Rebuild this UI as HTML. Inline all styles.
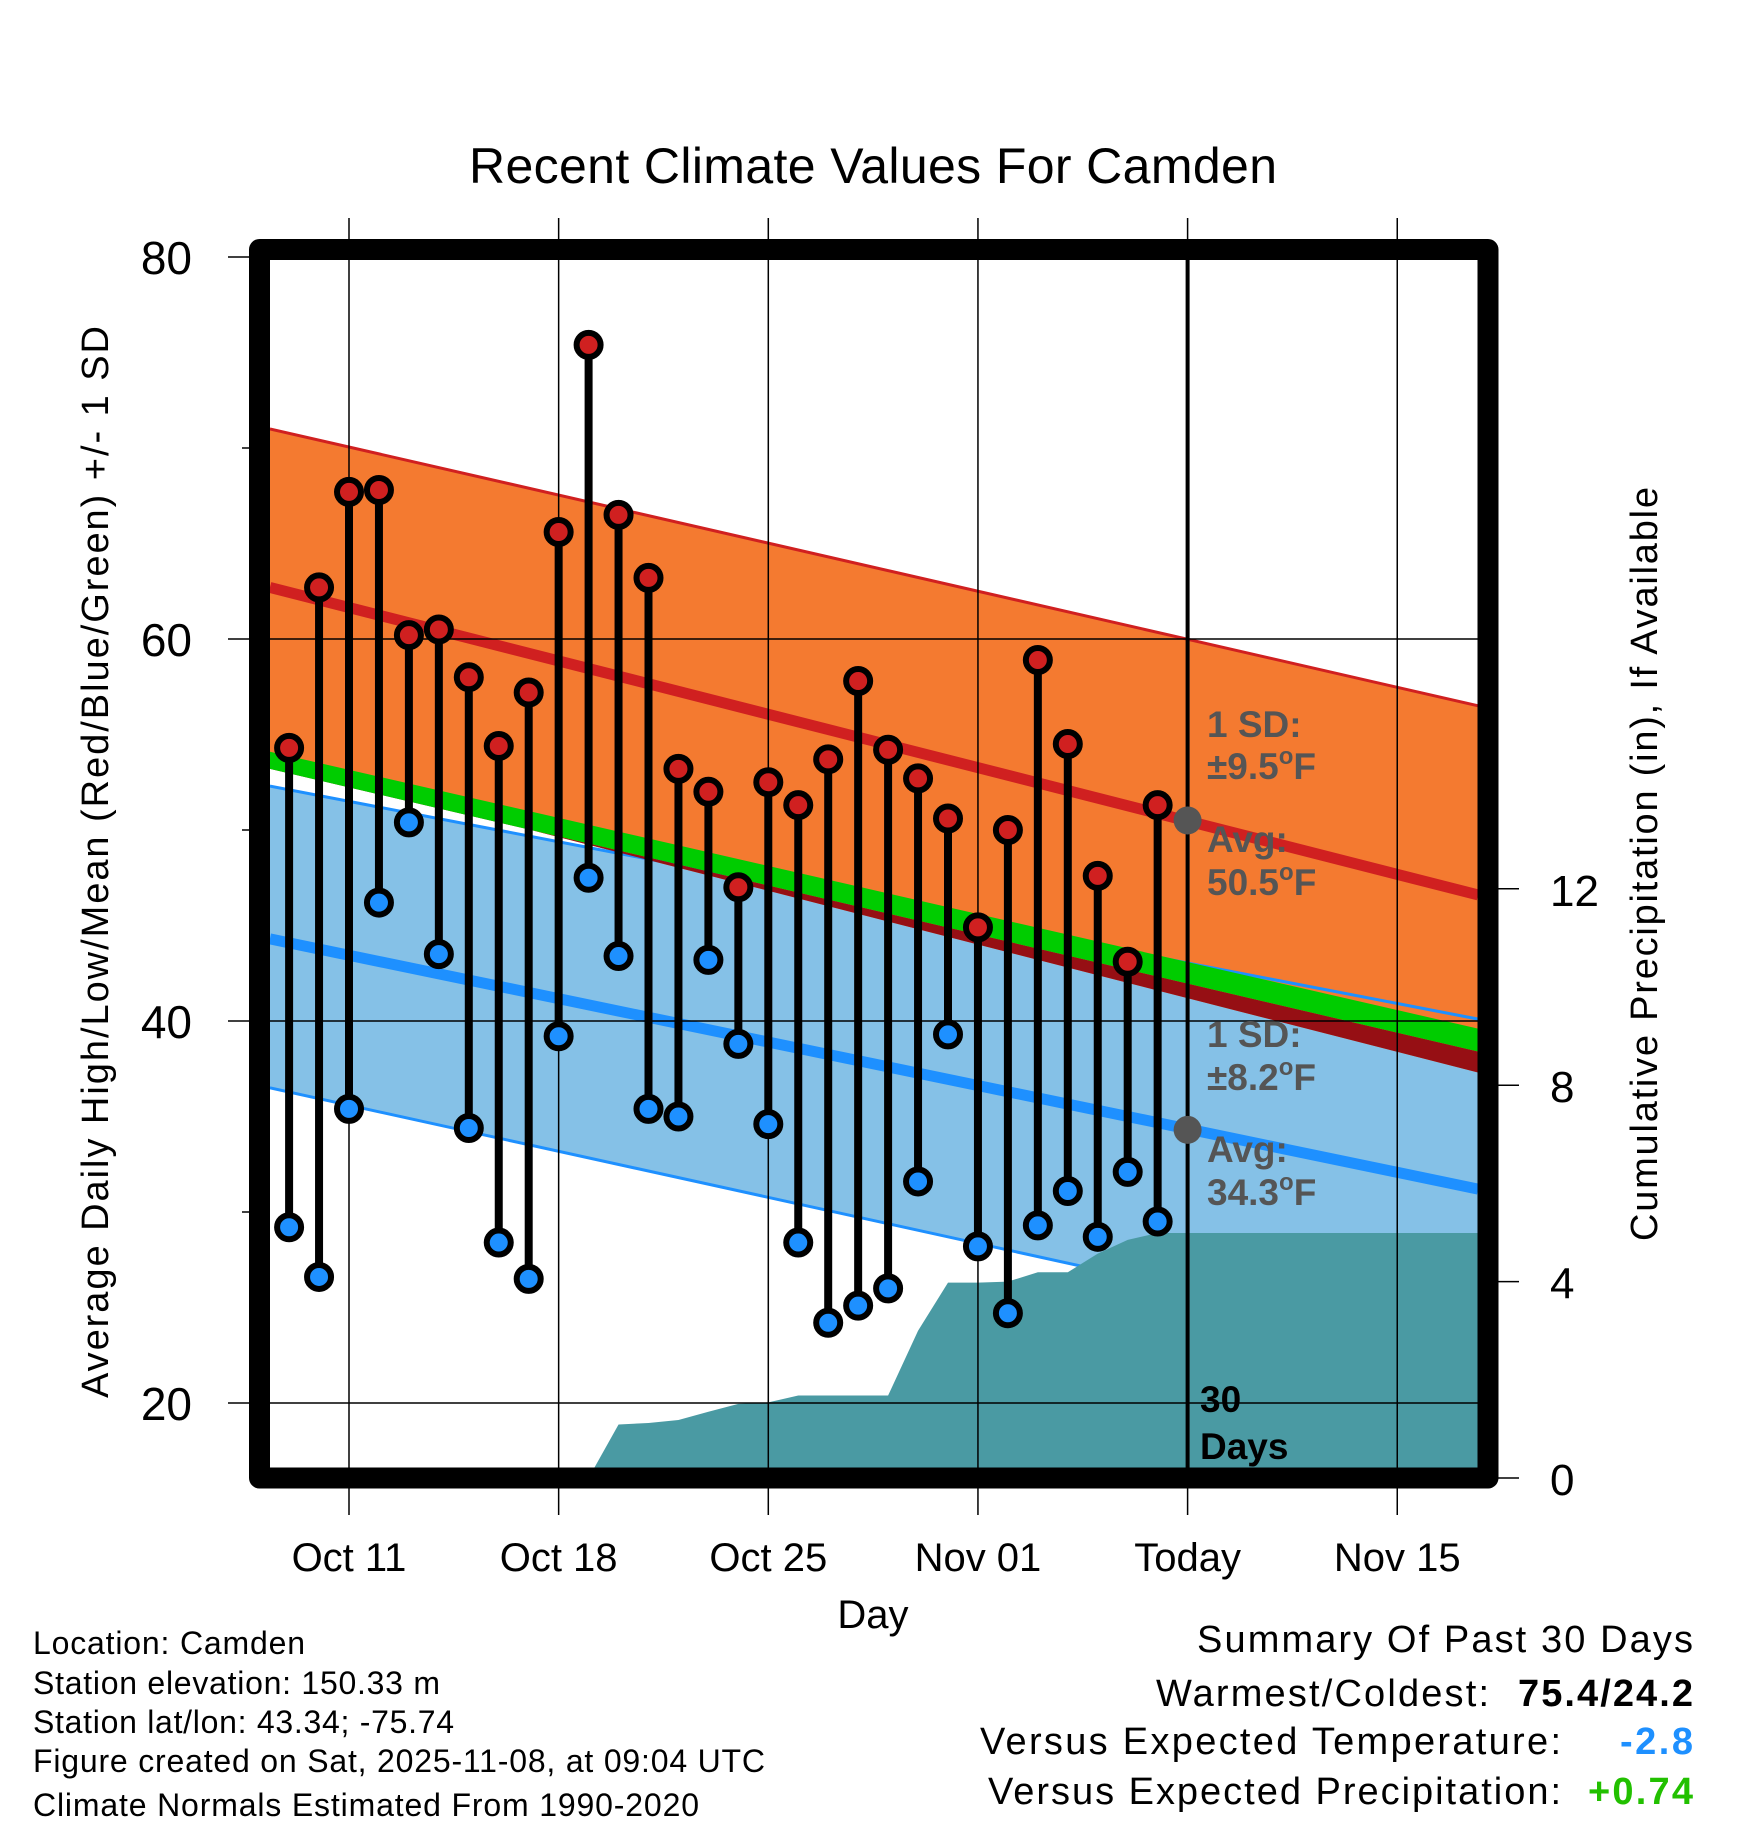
<!DOCTYPE html>
<html><head><meta charset="utf-8"><style>
html,body{margin:0;padding:0;background:#fff}
svg{display:block}
text{font-family:"Liberation Sans",sans-serif}
</style></head><body>
<svg id="chart" width="1748" height="1828" viewBox="0 0 1748 1828" xmlns="http://www.w3.org/2000/svg">
<defs><clipPath id="plotclip"><rect x="270" y="260" width="1208" height="1208"/></clipPath></defs>
<text x="873" y="183" font-size="50" text-anchor="middle" textLength="808">Recent Climate Values For Camden</text>
<g id="plot" clip-path="url(#plotclip)"></g>
<g id="over"></g>
<text transform="translate(108,862) rotate(-90)" font-size="38" text-anchor="middle" textLength="1072">Average Daily High/Low/Mean (Red/Blue/Green) +/- 1 SD</text>
<text transform="translate(1657,864) rotate(-90)" font-size="38" text-anchor="middle" textLength="754">Cumulative Precipitation (in), If Available</text>
<text x="873" y="1628" font-size="40" text-anchor="middle">Day</text>
<g font-size="32">
<text x="33" y="1654" textLength="272">Location: Camden</text>
<text x="33" y="1694" textLength="407">Station elevation: 150.33 m</text>
<text x="33" y="1733" textLength="421">Station lat/lon: 43.34; -75.74</text>
<text x="33" y="1772" textLength="732">Figure created on Sat, 2025-11-08, at 09:04 UTC</text>
<text x="33" y="1816" textLength="666">Climate Normals Estimated From 1990-2020</text>
</g>
<g font-size="38">
<text x="1197" y="1652" textLength="496">Summary Of Past 30 Days</text>
<text x="1156" y="1706" textLength="333">Warmest/Coldest:</text>
<text x="1518" y="1706" textLength="175" font-weight="bold">75.4/24.2</text>
<text x="980" y="1754" textLength="581">Versus Expected Temperature:</text>
<text x="1620" y="1754" textLength="73" font-weight="bold" fill="#1e90ff">-2.8</text>
<text x="988" y="1804" textLength="573">Versus Expected Precipitation:</text>
<text x="1588" y="1804" textLength="105" font-weight="bold" fill="#22c000">+0.74</text>
</g>
</svg>
<script>
// ---- data ----
const days = ["Oct 09","Oct 10","Oct 11","Oct 12","Oct 13","Oct 14","Oct 15","Oct 16","Oct 17","Oct 18","Oct 19","Oct 20","Oct 21","Oct 22","Oct 23","Oct 24","Oct 25","Oct 26","Oct 27","Oct 28","Oct 29","Oct 30","Oct 31","Nov 01","Nov 02","Nov 03","Nov 04","Nov 05","Nov 06","Nov 07"];
const highs = [54.3,62.7,67.7,67.8,60.2,60.5,58.0,54.4,57.2,65.6,75.4,66.5,63.2,53.2,52.0,47.0,52.5,51.3,53.7,57.8,54.2,52.7,50.6,44.9,50.0,58.9,54.5,47.6,43.1,51.3];
const lows = [29.2,26.6,35.4,46.2,50.4,43.5,34.4,28.4,26.5,39.2,47.5,43.4,35.4,35.0,43.2,38.8,34.6,28.4,24.2,25.1,26.0,31.6,39.3,28.2,24.7,29.3,31.1,28.7,32.1,29.5];
const precip = [0,0,0,0,0,0,0,0,0,0,0.0,1.09,1.12,1.18,1.35,1.51,1.54,1.68,1.68,1.68,1.68,3.0,3.98,3.98,4.0,4.19,4.19,4.57,4.85,4.99];
const firstDay = -2; // Oct 09 relative to Oct 11
const xTickLabels = ["Oct 11","Oct 18","Oct 25","Nov 01","Today","Nov 15"];
const xTickDays = [0,7,14,21,28,35];
const yTicks = [20,40,60,80];
const yMinor = [30,50,70];
const pTicks = [0,4,8,12];
// normals at left edge / right edge of plot
const hiUpper = [71.0,56.5], hiMean=[62.7,46.6], hiLower=[53.5,37.3];
const loUpper = [52.3,40.1], loMean=[44.3,31.2], loLower=[36.5,22.6];
const meanTop = [54.1,39.6], meanBot=[53.2,38.4];
const avgHigh = 50.5, avgLow = 34.3, todayDay = 28;

// ---- axes ----
const D0=-2.64, D1=37.7;
const X = d => 349 + 29.95*d;
const Y = v => 257 + (80-v)*19.1;
const YP = p => 1478 - p*49.1;
const NS="http://www.w3.org/2000/svg";
const plot=document.getElementById('plot'), over=document.getElementById('over'), svg=document.getElementById('chart');
function mk(tag, attrs, parent){const e=document.createElementNS(NS,tag);for(const k in attrs)e.setAttribute(k,attrs[k]);(parent||plot).appendChild(e);return e;}
const lerp=(a,d)=>a[0]+(a[1]-a[0])*(d-D0)/(D1-D0);
const lineP = a => [[X(D0),Y(a[0])],[X(D1),Y(a[1])]];
function band(a,b,fill,name){
  const p=[...lineP(a),...lineP(b).reverse()];
  const e=mk('polygon',{points:p.map(q=>q.join(',')).join(' '),fill:fill});
  
  
}
function ln(a,color,w,name){
  const p=lineP(a);
  const e=mk('line',{x1:p[0][0],y1:p[0][1],x2:p[1][0],y2:p[1][1],stroke:color,'stroke-width':w});
  
  
}
band(loUpper,loLower,'#85c1e7','low-sd-band');
ln(loLower,'#1e90ff',3,'low-sd-lower-line');
band(hiUpper,hiLower,'#f47a30','high-sd-band');
ln(hiUpper,'#d02020',3,'high-sd-upper-line');
ln(loUpper,'#1e90ff',3,'low-sd-upper-line');
band(meanBot,hiLower,'#960f14','overlap-band');
band(meanTop,meanBot,'#00cc00','mean-band');
ln(hiMean,'#d02020',11,'normal-high-line');
ln(loMean,'#1e90ff',11,'normal-low-line');

// precipitation area
{
  const pts=[];
  precip.forEach((p,i)=>pts.push([X(firstDay+i),YP(p)]));
  pts.push([X(D1)+5,YP(precip[precip.length-1])]);
  pts.push([X(D1)+5,1500]);pts.push([X(firstDay),1500]);
  const e=mk('polygon',{points:pts.map(q=>q.join(',')).join(' '),fill:'#4a9aa3'});
  
  
}
// grid
yTicks.forEach(v=>{
  const e=mk('line',{x1:228,x2:1488,y1:Y(v),y2:Y(v),stroke:'#000','stroke-width':1.5},over);
  
  
  const t=mk('text',{x:192,y:Y(v)+17,'font-size':46,'text-anchor':'end'},over);
  t.textContent=v;
  
  
});
yMinor.forEach(v=>{
  const e=mk('line',{x1:242,x2:260,y1:Y(v),y2:Y(v),stroke:'#000','stroke-width':1.5},over);
  
  
});
pTicks.forEach(p=>{
  const e=mk('line',{x1:1488,x2:1519,y1:YP(p),y2:YP(p),stroke:'#000','stroke-width':1.5},over);
  
  
  const t=mk('text',{x:1550,y:YP(p)+17,'font-size':44},over);
  t.textContent=p;
  
  
});
xTickDays.forEach((d,i)=>{
  const isToday = d===todayDay;
  const e=mk('line',{x1:X(d),x2:X(d),y1:218,y2:1515,stroke:'#000','stroke-width':1.5},over);
  
  
  if(isToday){
    const t2=mk('line',{x1:X(d),x2:X(d),y1:260,y2:1468,stroke:'#000','stroke-width':4},over);
    
    
  }
  const t=mk('text',{x:X(d),y:1571,'font-size':40,'text-anchor':'middle'},over);
  t.textContent=xTickLabels[i];
  
  
});
// data stems & markers
highs.forEach((h,i)=>{
  const x=X(firstDay+i);
  const s=mk('line',{x1:x,x2:x,y1:Y(h),y2:Y(lows[i]),stroke:'#000','stroke-width':8},over);
  
  
});
highs.forEach((h,i)=>{
  const x=X(firstDay+i);
  const a=mk('circle',{cx:x,cy:Y(h),r:12,fill:'#d02020',stroke:'#000','stroke-width':6},over);
  
  
  const b=mk('circle',{cx:x,cy:Y(lows[i]),r:12,fill:'#1e90ff',stroke:'#000','stroke-width':6},over);
  
  
});
// avg dots
[avgHigh,avgLow].forEach(v=>{
  const c=mk('circle',{cx:X(todayDay),cy:Y(v),r:14,fill:'#555'},over);
  
  
});
// frame
{
  const f=mk('rect',{x:259.5,y:249.5,width:1228.5,height:1228.5,fill:'none',stroke:'#000','stroke-width':21,'stroke-linejoin':'round'},over);
  
  
}
// annotations
function lab(x,y,txt,fill,name,sup){
  const t=mk('text',{x:x,y:y,'font-size':37,'font-weight':'bold',fill:fill},over);
  
  
  if(sup){
    t.appendChild(document.createTextNode(txt));
    const s=mk('tspan',{'font-size':24,dy:-15},t);s.textContent='o';
    const f=mk('tspan',{dy:15},t);f.textContent='F';
  } else t.textContent=txt;
}
lab(1207,737,'1 SD:','#555','high-sd-label');
lab(1207,779,'±9.5','#555','high-sd-value',true);
lab(1207,852,'Avg:','#555','high-avg-label');
lab(1207,895,'50.5','#555','high-avg-value',true);
lab(1207,1047,'1 SD:','#555','low-sd-label');
lab(1207,1090,'±8.2','#555','low-sd-value',true);
lab(1207,1162,'Avg:','#555','low-avg-label');
lab(1207,1205,'34.3','#555','low-avg-value',true);
lab(1200,1412,'30','#000','days-label');
lab(1200,1459,'Days','#000','days-label-2');
</script>
</body></html>
